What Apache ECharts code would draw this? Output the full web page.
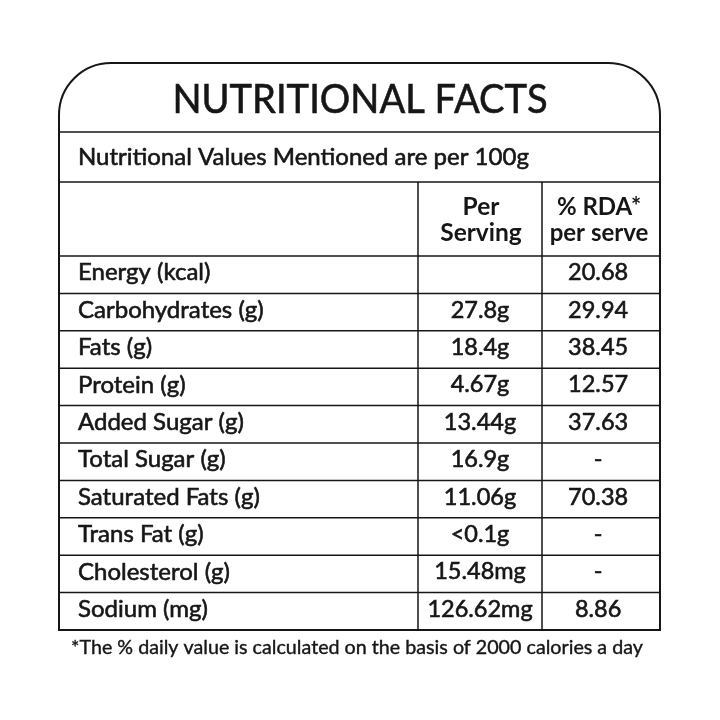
<!DOCTYPE html>
<html>
<head>
    <meta charset="utf-8">
    <title>Nutritional Facts</title>
    <script src="https://cdn.jsdelivr.net/npm/echarts@6.0.0/dist/echarts.min.js"></script>
    <style>
        html, body { margin: 0; padding: 0; background: #fff; }
        #main { width: 720px; height: 720px; }
    </style>
</head>
<body>
    <div id="main"></div>
    <script>
        // table contents
        const nutrients = ['Energy (kcal)', 'Carbohydrates (g)', 'Fats (g)', 'Protein (g)', 'Added Sugar (g)',
            'Total Sugar (g)', 'Saturated Fats (g)', 'Trans Fat (g)', 'Cholesterol (g)', 'Sodium (mg)'];
        const perServing = ['', '27.8g', '18.4g', '4.67g', '13.44g', '16.9g', '11.06g', '<0.1g', '15.48mg', '126.62mg'];
        const rdaPerServe = ['20.68', '29.94', '38.45', '12.57', '37.63', '-', '70.38', '-', '-', '8.86'];
        const headers = ['Per\nServing', '% RDA*\nper serve'];

        // column edges as fractions of the table width
        const colEdges = [0, 0.597, 0.804, 1];

        const FONT = 'Lato';
        const INK = '#161616';
        // a thin outline makes Lato regular look closer to the medium weight of the original
        const thick = { stroke: INK, lineWidth: 0.6 };

        const chart = echarts.init(document.getElementById('main'));

        const rowData = nutrients.map((n, i) => [i]);

        const option = {
            animation: false,
            grid: { left: 59, right: 60, top: 256, bottom: 90 },
            xAxis: { type: 'value', min: 0, max: 1, show: false },
            yAxis: { type: 'category', data: nutrients, inverse: true, show: false },
            series: [{
                type: 'custom',
                data: rowData,
                renderItem: function (params, api) {
                    const i = api.value(0);
                    const cy = api.coord([0, i])[1];
                    const h = api.size([0, 1])[1];
                    const x = f => api.coord([f, i])[0];
                    const ty = cy - 2;
                    const kids = [];
                    if (i < nutrients.length - 1) {
                        kids.push({
                            type: 'line',
                            shape: { x1: x(0), y1: cy + h / 2, x2: x(1), y2: cy + h / 2 },
                            style: { stroke: INK, lineWidth: 1.5 }
                        });
                    }
                    kids.push({
                        type: 'text',
                        style: Object.assign({ text: nutrients[i], x: x(0) + 19, y: ty, fontFamily: FONT, fontSize: 24,
                            fill: INK, align: 'left', verticalAlign: 'middle' }, thick)
                    });
                    kids.push({
                        type: 'text',
                        style: Object.assign({ text: perServing[i], x: (x(colEdges[1]) + x(colEdges[2])) / 2, y: ty,
                            fontFamily: FONT, fontSize: 23.5, fill: INK, align: 'center', verticalAlign: 'middle' }, thick)
                    });
                    kids.push({
                        type: 'text',
                        style: Object.assign({ text: rdaPerServe[i], x: (x(colEdges[2]) + x(colEdges[3])) / 2 - 3, y: ty,
                            fontFamily: FONT, fontSize: 23.5, fill: INK, align: 'center', verticalAlign: 'middle' }, thick)
                    });
                    return { type: 'group', children: kids };
                }
            }],
            graphic: [
                // outer frame with rounded top corners
                {
                    type: 'rect',
                    shape: { x: 59, y: 63, width: 601, height: 567, r: [52, 52, 0, 0] },
                    style: { fill: 'none', stroke: INK, lineWidth: 2 }
                },
                { type: 'line', shape: { x1: 59, y1: 132, x2: 660, y2: 132 }, style: { stroke: INK, lineWidth: 1.5 } },
                { type: 'line', shape: { x1: 59, y1: 182, x2: 660, y2: 182 }, style: { stroke: INK, lineWidth: 1.5 } },
                { type: 'line', shape: { x1: 59, y1: 256, x2: 660, y2: 256 }, style: { stroke: INK, lineWidth: 1.5 } },
                { type: 'line', shape: { x1: 418, y1: 182, x2: 418, y2: 630 }, style: { stroke: INK, lineWidth: 1.5 } },
                { type: 'line', shape: { x1: 542, y1: 182, x2: 542, y2: 630 }, style: { stroke: INK, lineWidth: 1.5 } },
                {
                    type: 'text',
                    x: 360, y: 100, scaleX: 0.93,
                    style: Object.assign({ text: 'NUTRITIONAL FACTS', x: 0, y: 0, fontFamily: FONT, fontSize: 41,
                        fill: INK, align: 'center', verticalAlign: 'middle' }, thick)
                },
                {
                    type: 'text',
                    style: Object.assign({ text: 'Nutritional Values Mentioned are per 100g', x: 78, y: 157, fontFamily: FONT,
                        fontSize: 24, fill: INK, align: 'left', verticalAlign: 'middle' }, thick)
                },
                {
                    type: 'text',
                    style: { text: headers[0], x: 481, y: 220, fontFamily: FONT, fontSize: 24.5, fontWeight: 'bold',
                        lineHeight: 26, fill: INK, align: 'center', verticalAlign: 'middle' }
                },
                {
                    type: 'text',
                    style: { text: headers[1], x: 599, y: 220, fontFamily: FONT, fontSize: 24, fontWeight: 'bold',
                        lineHeight: 26, fill: INK, align: 'center', verticalAlign: 'middle' }
                },
                {
                    type: 'text',
                    style: Object.assign({ text: '*The % daily value is calculated on the basis of 2000 calories a day', x: 357, y: 648,
                        fontFamily: FONT, fontSize: 19.7, fill: INK, align: 'center', verticalAlign: 'middle' }, { stroke: INK, lineWidth: 0.4 })
                }
            ]
        };

        chart.setOption(option);
    </script>
</body>
</html>
